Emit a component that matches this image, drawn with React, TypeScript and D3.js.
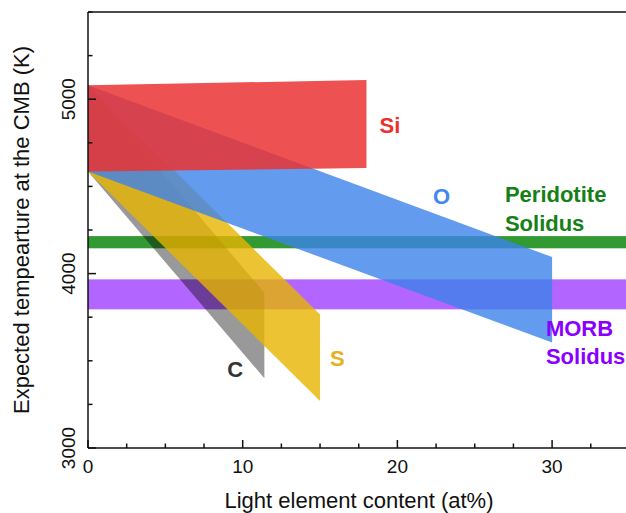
import * as d3 from 'd3';

// light-element bands (parallelograms from x = 0 to xEnd)
const elements = ['C', 'S', 'O', 'Si'];
const xEnd = [11.4, 15, 30, 18];
const topStart = [5080, 5080, 5080, 5080];
const topEnd = [3890, 3765, 4095, 5110];
const bottomStart = [4585, 4585, 4585, 4585];
const bottomEnd = [3400, 3270, 3605, 4605];

// solidus bands
const solidi = ['Peridotite', 'MORB'];
const solidusLow = [4145, 3795];
const solidusHigh = [4215, 3967];

// label anchors (data coordinates)
const elementLabelX = [9.0, 15.65, 22.3, 18.85];
const elementLabelY = [3409, 3470, 4399, 4806];
const solidusLabelX = [26.95, 29.6];
const solidusLabelY = [4408, 3644];

const xMajor = [0, 10, 20, 30];
const xMinor = d3.range(0, 35.1, 2.5);
const yMajor = [3000, 4000, 5000];
const yMinor = d3.range(3000, 5501, 250);

const W = 626;
const H = 513;
const font = '"Liberation Sans", Arial, sans-serif';

const bandFill: Record<string, string> = {
  C: 'rgba(0,0,0,0.4)',
  S: 'rgba(230,180,0,0.8)',
  O: 'rgba(60,130,235,0.8)',
  Si: 'rgba(235,50,50,0.85)',
};
const labelColor: Record<string, string> = {
  C: '#333333',
  S: '#e6b020',
  O: '#4088f0',
  Si: '#e8332f',
  Peridotite: '#158015',
  MORB: '#8a00ff',
};
const solidusFill: Record<string, string> = {
  Peridotite: '#339933',
  MORB: '#b266ff',
};

export default function App() {
  const x = d3.scaleLinear().domain([0, 35]).range([88, 88 + 35 * 15.47]);
  const y = d3.scaleLinear().domain([3000, 5500]).range([448, 12]);
  const line = d3
    .line<[number, number]>()
    .x((d) => x(d[0]))
    .y((d) => y(d[1]));

  const [x0, x1] = x.domain();
  const left = x(0);
  const bottom = y(3000);
  const top = y(5500);

  return (
    <svg
      width={W}
      height={H}
      style={{ position: 'absolute', left: 0, top: 0, background: '#fff' }}
      fontFamily={font}
    >
      {solidi.map((s, i) => (
        <rect
          key={s}
          x={x(x0)}
          y={y(solidusHigh[i])}
          width={x(x1) - x(x0)}
          height={y(solidusLow[i]) - y(solidusHigh[i])}
          fill={solidusFill[s]}
        />
      ))}

      {elements.map((e, i) => (
        <path
          key={e}
          d={
            line([
              [0, topStart[i]],
              [xEnd[i], topEnd[i]],
              [xEnd[i], bottomEnd[i]],
              [0, bottomStart[i]],
            ]) + 'Z'
          }
          fill={bandFill[e]}
        />
      ))}

      {elements.map((e, i) => (
        <text
          key={e}
          x={x(elementLabelX[i])}
          y={y(elementLabelY[i])}
          fontSize={22}
          fontWeight="bold"
          fill={labelColor[e]}
        >
          {e}
        </text>
      ))}

      {solidi.map((s, i) => (
        <text
          key={s}
          x={x(solidusLabelX[i])}
          y={y(solidusLabelY[i])}
          fontSize={22}
          fontWeight="bold"
          fill={labelColor[s]}
        >
          <tspan x={x(solidusLabelX[i])}>{s}</tspan>
          <tspan x={x(solidusLabelX[i])} dy={28.5}>
            Solidus
          </tspan>
        </text>
      ))}

      {/* axes */}
      <g stroke="#111" strokeWidth={1.5}>
        <line x1={left} x2={W} y1={top} y2={top} />
        <line x1={left} x2={W} y1={bottom} y2={bottom} />
        <line x1={left} x2={left} y1={top} y2={bottom} />
        {xMinor.map((t) => (
          <line key={'xm' + t} x1={x(t)} x2={x(t)} y1={bottom} y2={bottom - (xMajor.includes(t) ? 8 : 4.5)} />
        ))}
        {yMinor.map((t) => (
          <line key={'ym' + t} x1={left} x2={left + (yMajor.includes(t) ? 8 : 4.5)} y1={y(t)} y2={y(t)} />
        ))}
      </g>

      {xMajor.map((t) => (
        <text key={'xl' + t} x={x(t)} y={bottom + 25} fontSize={19} textAnchor="middle" fill="#111">
          {t}
        </text>
      ))}
      {yMajor.map((t) => (
        <text
          key={'yl' + t}
          transform={`translate(${left - 13},${y(t)}) rotate(-90)`}
          fontSize={19}
          textAnchor="middle"
          fill="#111"
        >
          {t}
        </text>
      ))}

      <text x={359} y={508} fontSize={22} textAnchor="middle" fill="#111">
        Light element content (at%)
      </text>
      <text
        transform={`translate(29,230) rotate(-90)`}
        fontSize={22}
        textAnchor="middle"
        fill="#111"
      >
        Expected tempearture at the CMB (K)
      </text>
    </svg>
  );
}
